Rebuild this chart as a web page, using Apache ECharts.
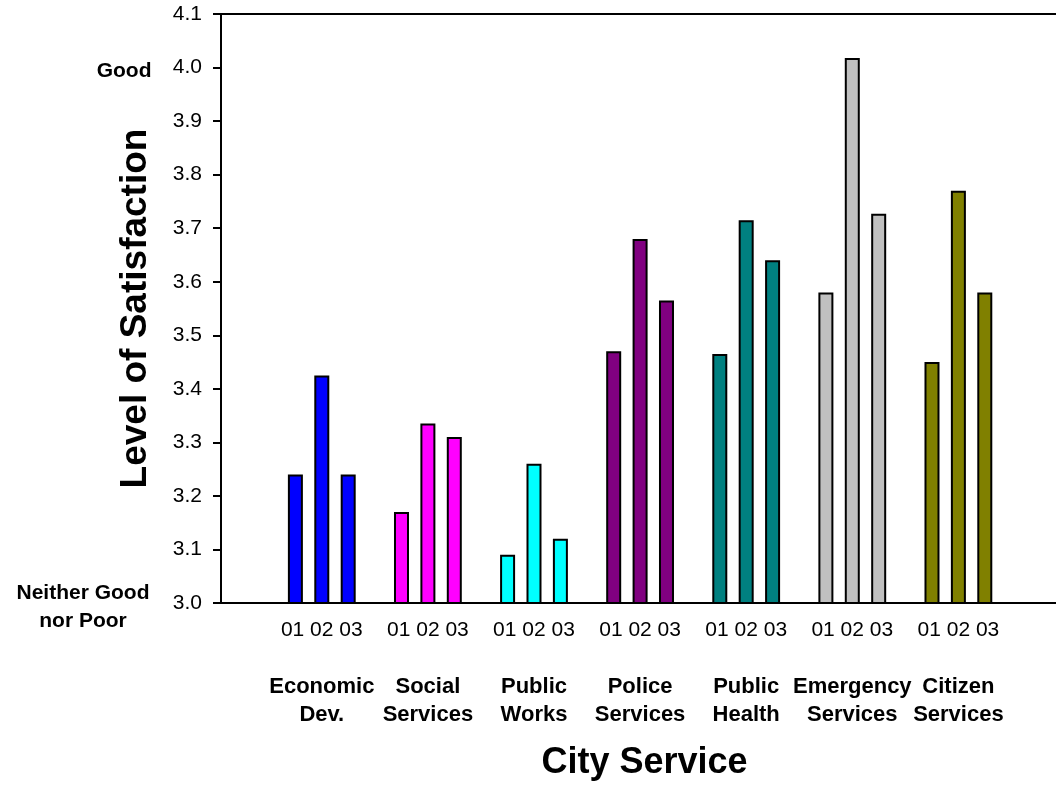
<!DOCTYPE html>
<html>
<head>
<meta charset="utf-8">
<title>Level of Satisfaction by City Service</title>
<script src="https://cdn.jsdelivr.net/npm/echarts@6/dist/echarts.min.js"></script>
<style>
  html, body { margin: 0; padding: 0; background: #ffffff; }
  #chart { width: 1056px; height: 786px; }
</style>
</head>
<body>
<div id="chart"></div>
<script>
// City services (two-line labels) and their bar colours
const categories = [
  ['Economic', 'Dev.'],
  ['Social', 'Services'],
  ['Public', 'Works'],
  ['Police', 'Services'],
  ['Public', 'Health'],
  ['Emergency', 'Services'],
  ['Citizen', 'Services']
];
const groupColors = ['#0000ff', '#ff00ff', '#00ffff', '#800080', '#008080', '#c0c0c0', '#808000'];

// Survey years
const years = ['01', '02', '03'];

// Mean satisfaction score per service, one array per year
const values01 = [3.24, 3.17, 3.09, 3.47, 3.465, 3.58, 3.45];
const values02 = [3.425, 3.335, 3.26, 3.68, 3.715, 4.018, 3.77];
const values03 = [3.24, 3.31, 3.12, 3.565, 3.64, 3.727, 3.58];
const yearValues = [values01, values02, values03];

// Scale endpoints and their verbal anchors
const yMin = 3.0, yMax = 4.1, yStep = 0.1;
const anchorValues = [3.0, 4.0];
const anchorTexts = { '3': ['Neither Good', 'nor Poor'], '4': ['Good'] };

const FONT = 'Arial, "Liberation Sans", Helvetica, sans-serif';
const groupIdx = categories.map((_, i) => i);

const chart = echarts.init(document.getElementById('chart'), null, { renderer: 'canvas' });

const series = years.map((yr, s) => ({
  name: yr,
  type: 'bar',
  xAxisIndex: 0,
  yAxisIndex: 0,
  barWidth: 15,
  barGap: '76%',
  data: yearValues[s].map((v, i) => ({
    value: [i, v],
    itemStyle: { color: groupColors[i], borderColor: '#000000', borderWidth: 2 }
  })),
  animation: false
}));

chart.setOption({
  backgroundColor: '#ffffff',
  animation: false,
  grid: { left: 221, right: 0, top: 14, bottom: 181, containLabel: false },
  xAxis: [
    {
      type: 'value',
      min: -0.95,
      max: 6.92,
      name: 'City Service',
      nameLocation: 'middle',
      nameGap: 142,
      nameTextStyle: { fontFamily: FONT, fontWeight: 'bold', fontSize: 36, color: '#000', padding: [0, 0, 0, 12] },
      axisLine: { show: true, onZero: false, lineStyle: { color: '#000', width: 2 } },
      axisTick: { show: false },
      splitLine: { show: false },
      axisLabel: {
        customValues: groupIdx,
        margin: 13,
        fontFamily: FONT,
        color: '#000',
        formatter: function (v) {
          const i = Math.round(v);
          const cat = categories[i];
          if (!cat) return '';
          return '{yr|' + years.join(' ') + '}\n{gap| }\n' +
            cat.map(t => '{cat|' + t + '}').join('\n');
        },
        rich: {
          yr: { fontFamily: FONT, fontSize: 21, lineHeight: 28, color: '#000' },
          gap: { fontSize: 10, lineHeight: 29 },
          cat: { fontFamily: FONT, fontSize: 22, fontWeight: 'bold', lineHeight: 28, color: '#000' }
        }
      }
    },
    {
      // top frame line of the plot
      type: 'value',
      position: 'top',
      min: -0.95,
      max: 6.92,
      axisLine: { show: true, onZero: false, lineStyle: { color: '#000', width: 2 } },
      axisTick: { show: false },
      axisLabel: { show: false },
      splitLine: { show: false }
    }
  ],
  yAxis: [
    {
      type: 'value',
      min: yMin,
      max: yMax,
      interval: yStep,
      name: 'Level of Satisfaction',
      nameLocation: 'middle',
      nameRotate: 90,
      nameGap: 67,
      nameTextStyle: { fontFamily: FONT, fontWeight: 'bold', fontSize: 37, color: '#000' },
      axisLine: { show: true, onZero: false, lineStyle: { color: '#000', width: 2 } },
      axisTick: { show: true, inside: false, length: 8, lineStyle: { color: '#000', width: 2 } },
      splitLine: { show: false },
      axisLabel: {
        margin: 19,
        fontFamily: FONT,
        fontSize: 21,
        color: '#000',
        formatter: v => v.toFixed(1)
      }
    },
    {
      // verbal anchors beside the numeric scale
      type: 'value',
      position: 'left',
      min: yMin,
      max: yMax,
      axisLine: { show: false },
      axisTick: { show: false },
      splitLine: { show: false },
      axisLabel: {
        customValues: anchorValues,
        align: 'center',
        margin: 138,
        padding: [8, 0, 0, 0],
        formatter: function (v) {
          const lines = anchorTexts[String(Math.round(v))];
          if (!lines) return '';
          const style = lines.length > 1 ? 'lo' : 'hi';
          return lines.map(t => '{' + style + '|' + t + '}').join('\n');
        },
        rich: {
          lo: { fontFamily: FONT, fontSize: 21, fontWeight: 'bold', lineHeight: 28, color: '#000' },
          hi: { fontFamily: FONT, fontSize: 21, fontWeight: 'bold', lineHeight: 28, color: '#000', width: 137, align: 'right' }
        }
      }
    }
  ],
  series: series
});
</script>
</body>
</html>
